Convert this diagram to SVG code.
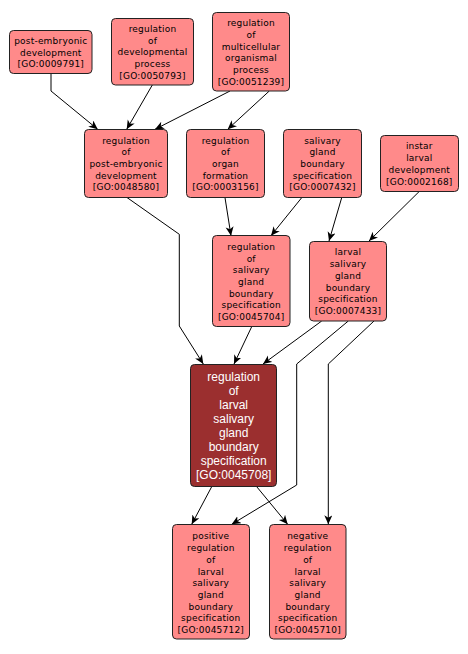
<svg xmlns="http://www.w3.org/2000/svg" width="468" height="654" viewBox="0 0 468 654">
<defs>
<marker id="arr" markerWidth="10" markerHeight="10" refX="9" refY="4" orient="auto" markerUnits="userSpaceOnUse">
<path d="M0,0 L9,4 L0,8 L2.5,4 z" fill="#000"/>
</marker>
<style>
.n rect{fill:#ff8a8a;stroke:#222;stroke-width:1}
.n text{font-family:"DejaVu Sans",sans-serif;font-size:9px;letter-spacing:0.2px;fill:#000;text-anchor:middle}
.m rect{fill:#9b2f2f;stroke:#222;stroke-width:1}
.m text{font-family:"Liberation Sans",Arial,sans-serif;font-size:12px;fill:#fff;text-anchor:middle}
.e path{fill:none;stroke:#000;stroke-width:1;marker-end:url(#arr)}
</style>
</defs>
<rect width="468" height="654" fill="#fff"/>
<g id="edges" class="e">
<path d="M51,73.3 L51,91 L97.7,129.3"/>
<path d="M152.3,85 L126.7,129.3"/>
<path d="M230,91 L155,129.3"/>
<path d="M269.3,91 L227.7,129.3"/>
<path d="M126.7,197.3 L179.3,234.3 L179.3,326 L203.3,364"/>
<path d="M225,197.7 L231,235.7"/>
<path d="M301.7,197.7 L271,235.7"/>
<path d="M341.7,197.7 L329,241"/>
<path d="M419,191.7 L369,241"/>
<path d="M251.7,326.7 L234,364"/>
<path d="M321.7,321 L263,364"/>
<path d="M348.3,321 L296.7,364 L296.7,485 L231.7,524.3"/>
<path d="M374,321 L328.3,364 L328.3,524.3"/>
<path d="M211.7,486.7 L191.7,524.3"/>
<path d="M256.7,486.7 L287.7,524.3"/>
</g>
<g id="n0009791" class="n">
<rect x="9.5" y="30.5" width="82.5" height="43" rx="4"/>
<text x="50.8" y="44"><tspan x="50.8">post-embryonic</tspan><tspan x="50.8" dy="11.7">development</tspan><tspan x="50.8" dy="11.7">[GO:0009791]</tspan></text>
</g>
<g id="n0050793" class="n">
<rect x="111.5" y="18.5" width="82" height="66.5" rx="4"/>
<text x="152.5" y="32"><tspan x="152.5">regulation</tspan><tspan x="152.5" dy="11.7">of</tspan><tspan x="152.5" dy="11.7">developmental</tspan><tspan x="152.5" dy="11.7">process</tspan><tspan x="152.5" dy="11.7">[GO:0050793]</tspan></text>
</g>
<g id="n0051239" class="n">
<rect x="212.5" y="12.5" width="77" height="78.5" rx="4"/>
<text x="251" y="26.2"><tspan x="251">regulation</tspan><tspan x="251" dy="11.7">of</tspan><tspan x="251" dy="11.7">multicellular</tspan><tspan x="251" dy="11.7">organismal</tspan><tspan x="251" dy="11.7">process</tspan><tspan x="251" dy="11.7">[GO:0051239]</tspan></text>
</g>
<g id="n0048580" class="n">
<rect x="84.5" y="129.5" width="83" height="68" rx="4"/>
<text x="126" y="143.6"><tspan x="126">regulation</tspan><tspan x="126" dy="11.7">of</tspan><tspan x="126" dy="11.7">post-embryonic</tspan><tspan x="126" dy="11.7">development</tspan><tspan x="126" dy="11.7">[GO:0048580]</tspan></text>
</g>
<g id="n0003156" class="n">
<rect x="186.5" y="129.5" width="78" height="68" rx="4"/>
<text x="225.5" y="143.6"><tspan x="225.5">regulation</tspan><tspan x="225.5" dy="11.7">of</tspan><tspan x="225.5" dy="11.7">organ</tspan><tspan x="225.5" dy="11.7">formation</tspan><tspan x="225.5" dy="11.7">[GO:0003156]</tspan></text>
</g>
<g id="n0007432" class="n">
<rect x="283.5" y="129.5" width="78" height="68" rx="4"/>
<text x="322.5" y="143.6"><tspan x="322.5">salivary</tspan><tspan x="322.5" dy="11.7">gland</tspan><tspan x="322.5" dy="11.7">boundary</tspan><tspan x="322.5" dy="11.7">specification</tspan><tspan x="322.5" dy="11.7">[GO:0007432]</tspan></text>
</g>
<g id="n0002168" class="n">
<rect x="380.5" y="135.5" width="78" height="56" rx="4"/>
<text x="419.3" y="149.4"><tspan x="419.3">instar</tspan><tspan x="419.3" dy="11.7">larval</tspan><tspan x="419.3" dy="11.7">development</tspan><tspan x="419.3" dy="11.7">[GO:0002168]</tspan></text>
</g>
<g id="n0045704" class="n">
<rect x="212.5" y="235.5" width="77.5" height="91" rx="4"/>
<text x="251.2" y="249.8"><tspan x="251.2">regulation</tspan><tspan x="251.2" dy="11.7">of</tspan><tspan x="251.2" dy="11.7">salivary</tspan><tspan x="251.2" dy="11.7">gland</tspan><tspan x="251.2" dy="11.7">boundary</tspan><tspan x="251.2" dy="11.7">specification</tspan><tspan x="251.2" dy="11.7">[GO:0045704]</tspan></text>
</g>
<g id="n0007433" class="n">
<rect x="309.5" y="241.5" width="77" height="79.5" rx="4"/>
<text x="348" y="255.4"><tspan x="348">larval</tspan><tspan x="348" dy="11.7">salivary</tspan><tspan x="348" dy="11.7">gland</tspan><tspan x="348" dy="11.7">boundary</tspan><tspan x="348" dy="11.7">specification</tspan><tspan x="348" dy="11.7">[GO:0007433]</tspan></text>
</g>
<g id="n0045708" class="m">
<rect x="190.5" y="364.5" width="86" height="122" rx="4"/>
<text x="233.7" y="380.8"><tspan x="233.7">regulation</tspan><tspan x="233.7" dy="14">of</tspan><tspan x="233.7" dy="14">larval</tspan><tspan x="233.7" dy="14">salivary</tspan><tspan x="233.7" dy="14">gland</tspan><tspan x="233.7" dy="14">boundary</tspan><tspan x="233.7" dy="14">specification</tspan><tspan x="233.7" dy="14">[GO:0045708]</tspan></text>
</g>
<g id="n0045712" class="n">
<rect x="172.5" y="524.5" width="77" height="114.5" rx="4"/>
<text x="210.8" y="539.4"><tspan x="210.8">positive</tspan><tspan x="210.8" dy="11.7">regulation</tspan><tspan x="210.8" dy="11.7">of</tspan><tspan x="210.8" dy="11.7">larval</tspan><tspan x="210.8" dy="11.7">salivary</tspan><tspan x="210.8" dy="11.7">gland</tspan><tspan x="210.8" dy="11.7">boundary</tspan><tspan x="210.8" dy="11.7">specification</tspan><tspan x="210.8" dy="11.7">[GO:0045712]</tspan></text>
</g>
<g id="n0045710" class="n">
<rect x="269.5" y="524.5" width="76.5" height="114.5" rx="4"/>
<text x="307.7" y="539.4"><tspan x="307.7">negative</tspan><tspan x="307.7" dy="11.7">regulation</tspan><tspan x="307.7" dy="11.7">of</tspan><tspan x="307.7" dy="11.7">larval</tspan><tspan x="307.7" dy="11.7">salivary</tspan><tspan x="307.7" dy="11.7">gland</tspan><tspan x="307.7" dy="11.7">boundary</tspan><tspan x="307.7" dy="11.7">specification</tspan><tspan x="307.7" dy="11.7">[GO:0045710]</tspan></text>
</g>
</svg>
